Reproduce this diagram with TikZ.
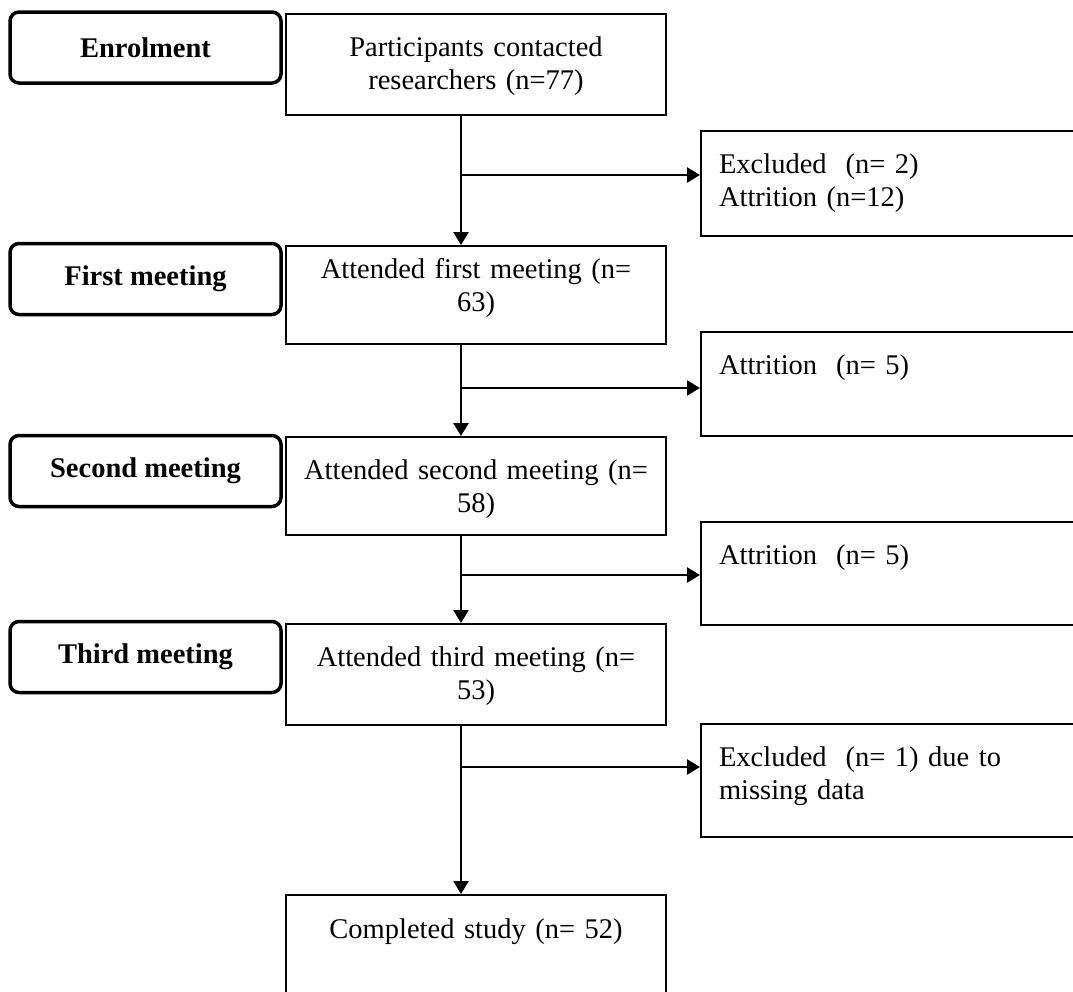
\documentclass[tikz,border=0pt]{standalone}
\usepackage{fontspec}
\setmainfont{Liberation Serif}
\usetikzlibrary{arrows.meta}
\newcommand{\flowfont}{\fontsize{28.5}{33.5}\selectfont}
\tikzstyle{stage}=[draw,line width=3.5pt,rounded corners=9pt,minimum width=271pt,minimum height=71pt,inner sep=0pt,font=\flowfont\bfseries]
\tikzstyle{mainbox}=[draw,line width=2pt,anchor=north west,inner sep=0pt,text width=380pt,align=center,text height=42pt,text depth=58pt]
\tikzstyle{sidebox}=[draw,line width=2pt,anchor=north west,inner xsep=18pt,inner ysep=0pt,text width=400pt,align=left,text height=42pt,text depth=62pt]
\tikzstyle{flow}=[line width=2.6pt,-{Triangle[length=13pt,width=15pt]}]

\begin{document}
\begin{tikzpicture}[x=1pt,y=-1pt,font=\flowfont]
    \useasboundingbox (0,0) rectangle (1073,991);
    \clip (0,0) rectangle (1073,991);
    \node[stage] (s1) at (145.5,47.5) {Enrolment};
    \node[stage] (s2) at (145.5,279) {First meeting};
    \node[stage] (s3) at (145.5,471) {Second meeting};
    \node[stage] (s4) at (145.5,657) {Third meeting};

    \node[mainbox,text depth=59pt] (m1) at (285,13) {Participants contacted\\researchers (n=77)};
    \node[mainbox,text height=32pt,text depth=66pt] (m2) at (285,245) {Attended first meeting (n=\\63)};
    \node[mainbox,text depth=56pt] (m3) at (285,436) {Attended second meeting (n=\\58)};
    \node[mainbox,text depth=59pt] (m4) at (285,623) {Attended third meeting (n=\\53)};
    \node[mainbox,text height=43pt,text depth=90pt] (m5) at (285,894) {Completed study (n= 52)};

    \node[sidebox,text depth=63pt] (e1) at (700,130) {Excluded\ \ (n= 2)\\Attrition (n=12)};
    \node[sidebox] (e2) at (700,331) {Attrition\ \ (n= 5)};
    \node[sidebox,text depth=61pt] (e3) at (700,521) {Attrition\ \ (n= 5)};
    \node[sidebox,text depth=71pt] (e4) at (700,723) {Excluded\ \ (n= 1) due to\\missing data};

    \coordinate (j1) at (461,175);
    \coordinate (j2) at (461,388);
    \coordinate (j3) at (461,575);
    \coordinate (j4) at (461,767);

    \foreach \j/\from/\to/\side in {j1/m1/m2/e1,j2/m2/m3/e2,j3/m3/m4/e3,j4/m4/m5/e4}
    {
    \draw[flow] (\j |- \from.south) -- (\j |- \to.north);
    \draw[flow] (\j) -- (\j -| \side.west);
    }
\end{tikzpicture}
\end{document}
